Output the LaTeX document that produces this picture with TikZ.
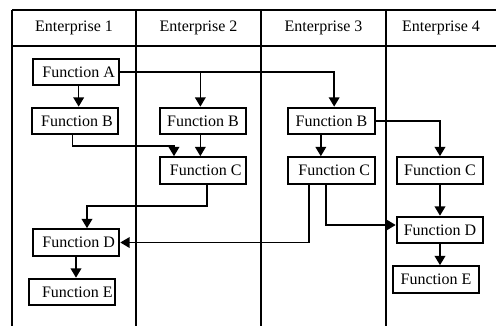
\documentclass[tikz,border=0pt]{standalone}
\usepackage{fontspec}
\setmainfont{Liberation Serif}
\usepackage{tikz}
\usetikzlibrary{arrows.meta,positioning}
\tikzstyle{func}=[rectangle, draw=black, line width=1.5pt, minimum width=65pt, minimum height=20pt, inner sep=1pt, font=\fontsize{12}{14}\selectfont]
\tikzstyle{head}=[font=\fontsize{12}{14}\selectfont]
\tikzstyle{lane}=[line width=1.5pt]
\tikzstyle{arr}=[line width=1.2pt, -{Triangle[width=8pt,length=7pt]}]

\begin{document}
\begin{tikzpicture}[x=0.75pt,y=-0.75pt]
\useasboundingbox (0,0) rectangle (496,326);

%Lanes
\draw[lane] (12,10) -- (496,10);
\draw[lane] (12,46) -- (496,46);
\draw[lane] (12,10) -- (12,326);
\draw[lane] (136,10) -- (136,326);
\draw[lane] (261,10) -- (261,326);
\draw[lane] (386,10) -- (386,326);
\node[head] (e1) at (74,28){Enterprise 1};
\node[head] (e2) at (198.5,28){Enterprise 2};
\node[head] (e3) at (323.5,28){Enterprise 3};
\node[head] (e4) at (441,28){Enterprise 4};

%Enterprise 1
\node[func] (fa1) at (76,72){\hspace{4pt}Function A};
\node[func] (fb1) at (75,121){\hspace{3pt}Function B};
\node[func] (fd1) at (76,242.5){\hspace{4pt}Function D};
\node[func] (fe1) at (72,292){\hspace{8pt}Function E};
%Enterprise 2
\node[func] (fb2) at (203,121){Function B};
\node[func] (fc2) at (203,170.5){\hspace{4pt}Function C};
%Enterprise 3
\node[func] (fb3) at (331.5,121){Function B};
\node[func] (fc3) at (331.5,170.5){\hspace{4pt}Function C};
%Enterprise 4
\node[func] (fc4) at (440,170.5){Function C\hspace{4pt}};
\node[func] (fd4) at (440,230){Function D\hspace{4pt}};
\node[func] (fe4) at (436,279.5){Function E};

%bends
\coordinate (k1) at (174,146);
\coordinate (k2) at (87,206);

%Arrows
\draw[arr] (fa1.east) -| ([xshift=2pt]fb3.north);
\draw[arr] (fa1.east -| fb2.north) ++(-2pt,0) -- ([xshift=-2pt]fb2.north);
\draw[arr] ([xshift=2pt]fa1.south) -- ([xshift=2pt]fa1.south |- fb1.north);
\draw[arr] ([xshift=-2pt]fb1.south) |- (k1) -- (k1 |- fc2.north);
\draw[arr] ([xshift=-2pt]fb2.south) -- ([xshift=-2pt]fc2.north);
\draw[arr] (fb3.east) -| (fc4.north);
\draw[arr] ([xshift=-8pt]fb3.south) -- ([xshift=-8pt]fc3.north);
\draw[arr] ([xshift=3pt]fc2.south) |- (k2) -- (k2 |- fd1.north);
\draw[arr] ([xshift=-17pt]fc3.south) |- (fd1.east);
\draw[arr] ([xshift=-4pt]fc3.south) |- ([yshift=3.75pt]fd4.west);
\draw[arr] (fc4.south) -- (fd4.north);
\draw[arr] (fd4.south) -- (fd4.south |- fe4.north);
\draw[arr] (fd1.south) -- (fd1.south |- fe1.north);

\end{tikzpicture}
\end{document}
